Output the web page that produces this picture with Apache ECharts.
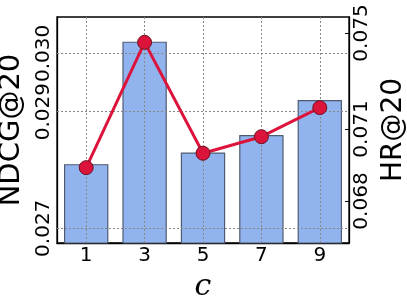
<!DOCTYPE html>
<html><head><meta charset="utf-8">
<script src="https://cdn.jsdelivr.net/npm/echarts@6/dist/echarts.min.js"></script>
<style>html,body{margin:0;padding:0;background:#fff}#c{width:407px;height:301px}</style>
</head><body><div id="c"></div>
<script>
const categories = ['1','3','5','7','9'];
const ndcg = [0.02810, 0.03020, 0.02830, 0.02860, 0.02920];
const hr = [0.06939, 0.07461, 0.06999, 0.07068, 0.07189];
const leftTicks = [0.027, 0.029, 0.030];
const rightTicks = [0.068, 0.071, 0.075];

const chart = echarts.init(document.getElementById('c'));
const font = 'DejaVu Sans';
const gridLine = {color: '#888', type: [2, 2], width: 1};
chart.setOption({
  animation: false,
  grid: {left: 57, right: 58, top: 17, bottom: 58, show: true, borderColor: '#000', borderWidth: 1.3, backgroundColor: 'transparent', outerBoundsMode: 'none', containLabel: false},
  xAxis: {
    type: 'category', data: categories,
    name: 'c', nameLocation: 'middle', nameGap: 29,
    nameTextStyle: {fontFamily: 'DejaVu Serif', fontStyle: 'italic', fontSize: 30, color: '#000'},
    axisLine: {show: true, lineStyle: {color: '#000', width: 1.3}},
    axisTick: {show: false},
    axisLabel: {color: '#000', fontFamily: font, fontSize: 20, margin: 3},
    splitLine: {show: false}
  },
  yAxis: [{
    type: 'value', min: 0.026748, max: 0.030623, position: 'left',
    name: 'NDCG@20', nameLocation: 'middle', nameRotate: 90, nameGap: 30,
    nameTextStyle: {fontFamily: font, fontSize: 29, color: '#000'},
    axisLine: {show: true, lineStyle: {color: '#000', width: 1.3}},
    axisTick: {show: false, customValues: leftTicks},
    axisLabel: {rotate: 90, customValues: leftTicks, hideOverlap: false, formatter: v => v.toFixed(3), color: '#000', fontFamily: font, fontSize: 20, margin: 3},
    splitLine: {show: false}
  }, {
    type: 'value', min: 0.06625, max: 0.075667, position: 'right',
    name: 'HR@20', nameLocation: 'middle', nameRotate: 90, nameGap: 26,
    nameTextStyle: {fontFamily: font, fontSize: 28, color: '#000'},
    axisLine: {show: true, lineStyle: {color: '#000', width: 1.3}},
    axisTick: {show: true, inside: true, length: 4, customValues: rightTicks, lineStyle: {color: '#000'}},
    axisLabel: {rotate: 90, customValues: rightTicks, hideOverlap: false, formatter: v => v.toFixed(3), color: '#000', fontFamily: font, fontSize: 20, margin: 3},
    splitLine: {show: false}
  }],
  series: [{
    type: 'bar', data: ndcg, yAxisIndex: 0, barWidth: '76%',
    itemStyle: {color: '#92b4ee', borderColor: '#4f5b73', borderWidth: 1.2},
    markLine: {
      silent: true, symbol: 'none', label: {show: false}, precision: 4,
      lineStyle: gridLine,
      data: leftTicks.map(v => ({yAxis: v}))
    },
    z: 1
  }, {
    type: 'line', data: hr, yAxisIndex: 1,
    symbol: 'circle', symbolSize: 14,
    lineStyle: {color: '#dc143c', width: 3},
    itemStyle: {color: '#dc143c', borderColor: '#6a1020', borderWidth: 1},
    markLine: {
      silent: true, symbol: 'none', label: {show: false},
      lineStyle: gridLine,
      data: categories.map(c => ({xAxis: c}))
    },
    z: 5
  }]
});
</script></body></html>
